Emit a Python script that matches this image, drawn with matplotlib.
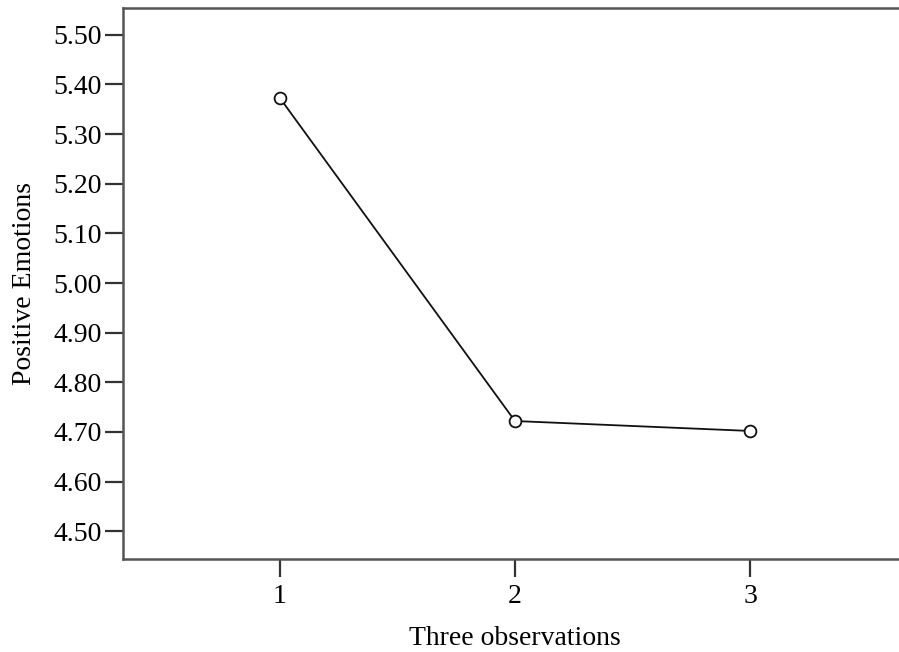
import matplotlib
matplotlib.use("Agg")
from matplotlib import pyplot as plt

# data
observations = [1, 2, 3]
positive_emotions = [5.373, 4.722, 4.702]
y_ticks = [4.50, 4.60, 4.70, 4.80, 4.90, 5.00, 5.10, 5.20, 5.30, 5.40, 5.50]

plt.rcParams['font.family'] = ['Liberation Serif', 'DejaVu Serif']

fig = plt.figure(figsize=(8.99, 6.52), dpi=100)
# axes runs past the right edge, as in the cropped original
ax = fig.add_axes([0.1368, 0.1426, 0.872, 0.8451])

ax.plot(observations, positive_emotions, color='#111111', linewidth=1.3,
        marker='o', markersize=8.5, markerfacecolor='white',
        markeredgecolor='#111111', markeredgewidth=1.3)

ax.set_xlim(1/3, 11/3)
ax.set_ylim(4.444, 5.554)
ax.set_xticks(observations)
ax.set_xticklabels([str(o) for o in observations])
ax.set_yticks(y_ticks)
ax.set_yticklabels(['%.2f' % v for v in y_ticks])

for s in ['left', 'bottom', 'top']:
    ax.spines[s].set_color('#555555')
    ax.spines[s].set_linewidth(1.8)
ax.spines['right'].set_visible(False)

ax.tick_params(axis='both', direction='out', length=13, width=1.6,
               color='#333333', labelsize=20, pad=2)
ax.tick_params(axis='x', pad=5)

ax.set_xlabel('Three observations', fontsize=20, labelpad=12)
ax.set_ylabel('Positive Emotions', fontsize=20, labelpad=12)

fig.savefig('out.png', dpi=100)
